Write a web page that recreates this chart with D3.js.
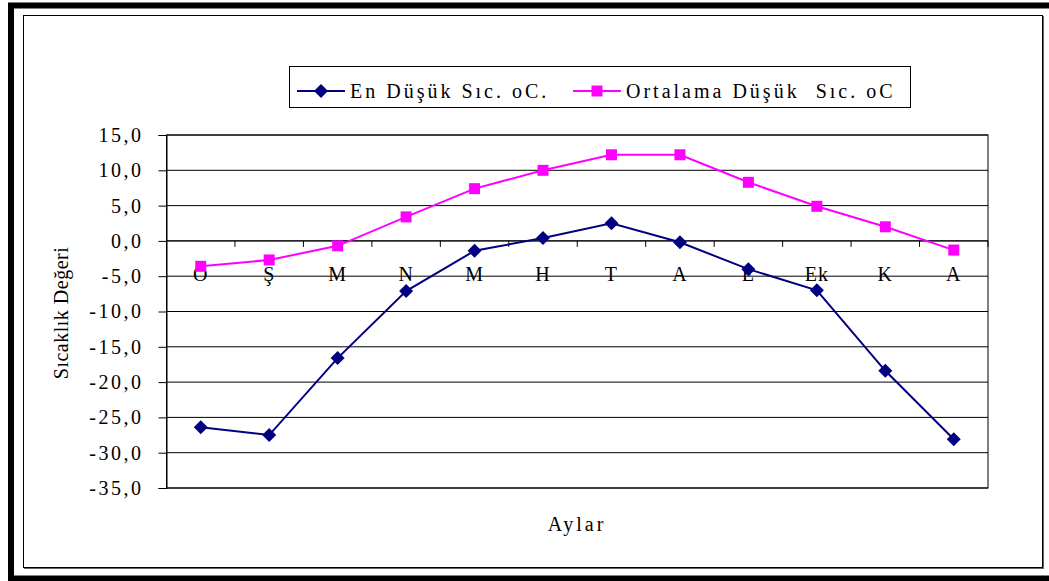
<!DOCTYPE html>
<html>
<head>
<meta charset="utf-8">
<script src="https://cdn.jsdelivr.net/npm/d3@7"></script>
<style>
  body { margin: 0; background: #fff; }
  svg, svg text { font-family: "Liberation Serif", "DejaVu Serif", serif; }
</style>
</head>
<body>
<div id="app"></div>
<script>
// Months (Turkish initials) and the two temperature series
var months = ["O", "Ş", "M", "N", "M", "H", "T", "A", "E", "Ek", "K", "A"];
var enDusuk = [-26.4, -27.5, -16.6, -7.1, -1.4, 0.4, 2.5, -0.2, -4.0, -7.0, -18.4, -28.1];
var ortalamaDusuk = [-3.6, -2.7, -0.7, 3.4, 7.4, 10.0, 12.2, 12.2, 8.3, 4.9, 2.0, -1.3];
var yTicks = [15, 10, 5, 0, -5, -10, -15, -20, -25, -30, -35];

var seriesNames = ["En Düşük Sıc. oC.", "Ortalama Düşük  Sıc. oC"];
var seriesColors = ["#000080", "#ff00ff"];

var width = 1049,
  height = 581;

var svg = d3.select("#app")
  .append("svg")
  .attr("width", width)
  .attr("height", height)
  .attr("font-family", "Liberation Serif");

// outer thick frame and inner thin frame
svg.append("rect")
  .attr("x", 11).attr("y", 5.5)
  .attr("width", 1080).attr("height", 573)
  .attr("fill", "none").attr("stroke", "#000").attr("stroke-width", 6);

svg.append("rect")
  .attr("x", 24.5).attr("y", 16.5)
  .attr("width", 1019).attr("height", 552)
  .attr("fill", "none").attr("stroke", "#666").attr("stroke-width", 1);
svg.append("rect")
  .attr("x", 23.5).attr("y", 15.5)
  .attr("width", 1019).attr("height", 552)
  .attr("fill", "#fff").attr("stroke", "#000").attr("stroke-width", 1);

var plot = { left: 166.5, right: 988, top: 135, bottom: 488 };

var x = d3.scaleBand()
  .domain(d3.range(months.length))
  .range([plot.left, plot.right]);

var y = d3.scaleLinear()
  .domain([-35, 15])
  .range([plot.bottom, plot.top]);

// gridlines
svg.append("g")
  .selectAll("line")
  .data(yTicks)
  .enter().append("line")
  .attr("x1", plot.left).attr("x2", plot.right)
  .attr("y1", d => y(d)).attr("y2", d => y(d))
  .attr("stroke", "#000").attr("stroke-width", 1);

// plot border
svg.append("rect")
  .attr("x", plot.left).attr("y", plot.top)
  .attr("width", plot.right - plot.left).attr("height", plot.bottom - plot.top)
  .attr("fill", "none").attr("stroke", "#000").attr("stroke-width", 1);

// y axis
var yAxis = svg.append("g")
  .attr("transform", "translate(" + plot.left + ",0)")
  .call(d3.axisLeft(y)
    .tickValues(yTicks)
    .tickSize(8)
    .tickPadding(15)
    .tickFormat(d => d3.format(".1f")(d).replace(".", ",").replace("−", "-")));
yAxis.select(".domain").attr("stroke", "#000");
yAxis.selectAll("text")
  .attr("font-family", "Liberation Serif")
  .attr("font-size", 20)
  .attr("fill", "#000")
  .style("letter-spacing", "2.5px");

// x axis on the zero line, ticks at category boundaries
var xg = svg.append("g");
xg.append("line")
  .attr("x1", plot.left).attr("x2", plot.right)
  .attr("y1", y(0)).attr("y2", y(0))
  .attr("stroke", "#000");
xg.selectAll(".xtick")
  .data(d3.range(months.length + 1))
  .enter().append("line")
  .attr("class", "xtick")
  .attr("x1", i => plot.left + i * x.bandwidth())
  .attr("x2", i => plot.left + i * x.bandwidth())
  .attr("y1", y(0)).attr("y2", y(0) + 6)
  .attr("stroke", "#000");
xg.selectAll(".xlabel")
  .data(months)
  .enter().append("text")
  .attr("class", "xlabel")
  .attr("x", (d, i) => x(i) + x.bandwidth() / 2)
  .attr("y", y(0) + 40)
  .attr("text-anchor", "middle")
  .attr("font-size", 20)
  .style("letter-spacing", "1px")
  .text(d => d);

// series lines and markers
var diamond = d3.symbol().type(d3.symbolDiamond2).size(125);
var square = d3.symbol().type(d3.symbolSquare).size(121);

var line = d3.line()
  .x((d, i) => x(i) + x.bandwidth() / 2)
  .y(d => y(d));

[enDusuk, ortalamaDusuk].forEach(function (values, s) {
  svg.append("path")
    .datum(values)
    .attr("d", line)
    .attr("fill", "none")
    .attr("stroke", seriesColors[s])
    .attr("stroke-width", 2);

  svg.selectAll(".m" + s)
    .data(values)
    .enter().append("path")
    .attr("class", "m" + s)
    .attr("transform", (d, i) => "translate(" + (x(i) + x.bandwidth() / 2) + "," + y(d) + ")")
    .attr("d", s === 0 ? diamond : square)
    .attr("fill", seriesColors[s]);
});

// axis titles
svg.append("text")
  .attr("transform", "translate(68,313) rotate(-90)")
  .attr("text-anchor", "middle")
  .attr("font-size", 20)
  .style("letter-spacing", "0.5px")
  .text("Sıcaklık Değeri");

svg.append("text")
  .attr("x", 577)
  .attr("y", 531)
  .attr("text-anchor", "middle")
  .attr("font-size", 20)
  .style("letter-spacing", "3px")
  .text("Aylar");

// legend
var legend = svg.append("g");
legend.append("rect")
  .attr("x", 289.5).attr("y", 66.5)
  .attr("width", 621).attr("height", 41)
  .attr("fill", "#fff").attr("stroke", "#000");

var legendX = [297, 573];
seriesNames.forEach(function (name, s) {
  var lx = legendX[s];
  legend.append("line")
    .attr("x1", lx).attr("x2", lx + 48)
    .attr("y1", 91).attr("y2", 91)
    .attr("stroke", seriesColors[s]).attr("stroke-width", 2);
  legend.append("path")
    .attr("transform", "translate(" + (lx + 24) + ",91)")
    .attr("d", s === 0 ? diamond : square)
    .attr("fill", seriesColors[s]);
  legend.append("text")
    .attr("x", lx + 53)
    .attr("y", 98)
    .attr("font-size", 20)
    .style("letter-spacing", "3px")
    .style("white-space", "pre")
    .text(name);
});
</script>
</body>
</html>
